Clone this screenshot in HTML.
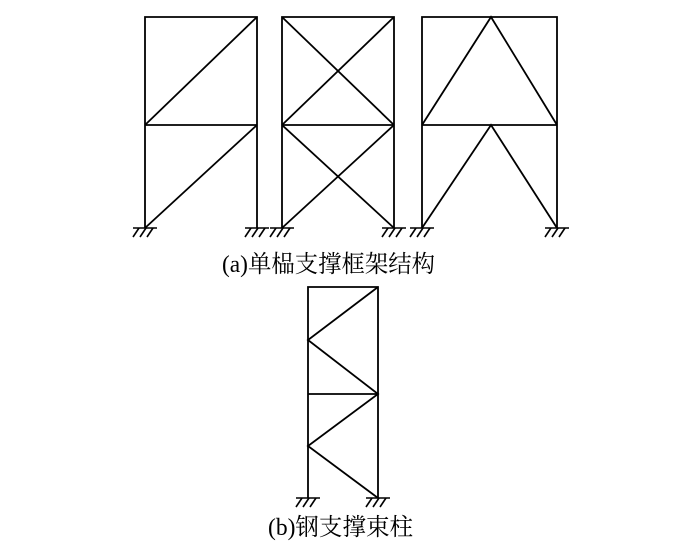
<!DOCTYPE html>
<html><head><meta charset="utf-8"><style>
html,body{margin:0;padding:0;background:#fff;}
svg{display:block;}
text{font-family:"Liberation Serif","Noto Serif CJK SC","Noto Sans CJK SC",serif;font-size:24px;fill:#000;}
</style></head><body>
<svg width="700" height="541" viewBox="0 0 700 541" xmlns="http://www.w3.org/2000/svg">
<defs>
<g id="sup" stroke="#000" stroke-width="1.6" fill="none">
<line x1="-12" y1="0" x2="12" y2="0"/>
<line x1="-6" y1="0" x2="-12" y2="9"/>
<line x1="1" y1="0" x2="-5" y2="9"/>
<line x1="8" y1="0" x2="2" y2="9"/>
</g>
</defs>
<g stroke="#000" stroke-width="1.8" fill="none">
<!-- frame 1 -->
<polyline points="145,228 145,17 257,17 257,228"/>
<line x1="145" y1="125" x2="257" y2="125"/>
<line x1="145" y1="228" x2="257" y2="125"/>
<line x1="145" y1="125" x2="257" y2="17"/>
<!-- frame 2 -->
<polyline points="282,228 282,17 394,17 394,228"/>
<line x1="282" y1="125" x2="394" y2="125"/>
<line x1="282" y1="17" x2="394" y2="125"/>
<line x1="394" y1="17" x2="282" y2="125"/>
<line x1="282" y1="125" x2="394" y2="228"/>
<line x1="394" y1="125" x2="282" y2="228"/>
<!-- frame 3 -->
<polyline points="422,228 422,17 557,17 557,228"/>
<line x1="422" y1="125" x2="557" y2="125"/>
<polyline points="422,125 491,17 557,125"/>
<polyline points="422,228 491,125 557,228"/>
<!-- frame b -->
<polyline points="308,498 308,287 378,287 378,498"/>
<line x1="308" y1="394" x2="378" y2="394"/>
<polyline points="378,287 308,340 378,394 308,446 378,498"/>
</g>
<use href="#sup" x="145" y="228"/>
<use href="#sup" x="257" y="228"/>
<use href="#sup" x="282" y="228"/>
<use href="#sup" x="394" y="228"/>
<use href="#sup" x="422" y="228"/>
<use href="#sup" x="557" y="228"/>
<use href="#sup" x="308" y="498"/>
<use href="#sup" x="378" y="498"/>
<text x="222" y="272" textLength="213" lengthAdjust="spacingAndGlyphs">(a)单榀支撑框架结构</text>
<text x="268" y="535" textLength="145" lengthAdjust="spacingAndGlyphs">(b)钢支撑束柱</text>
</svg>
</body></html>
